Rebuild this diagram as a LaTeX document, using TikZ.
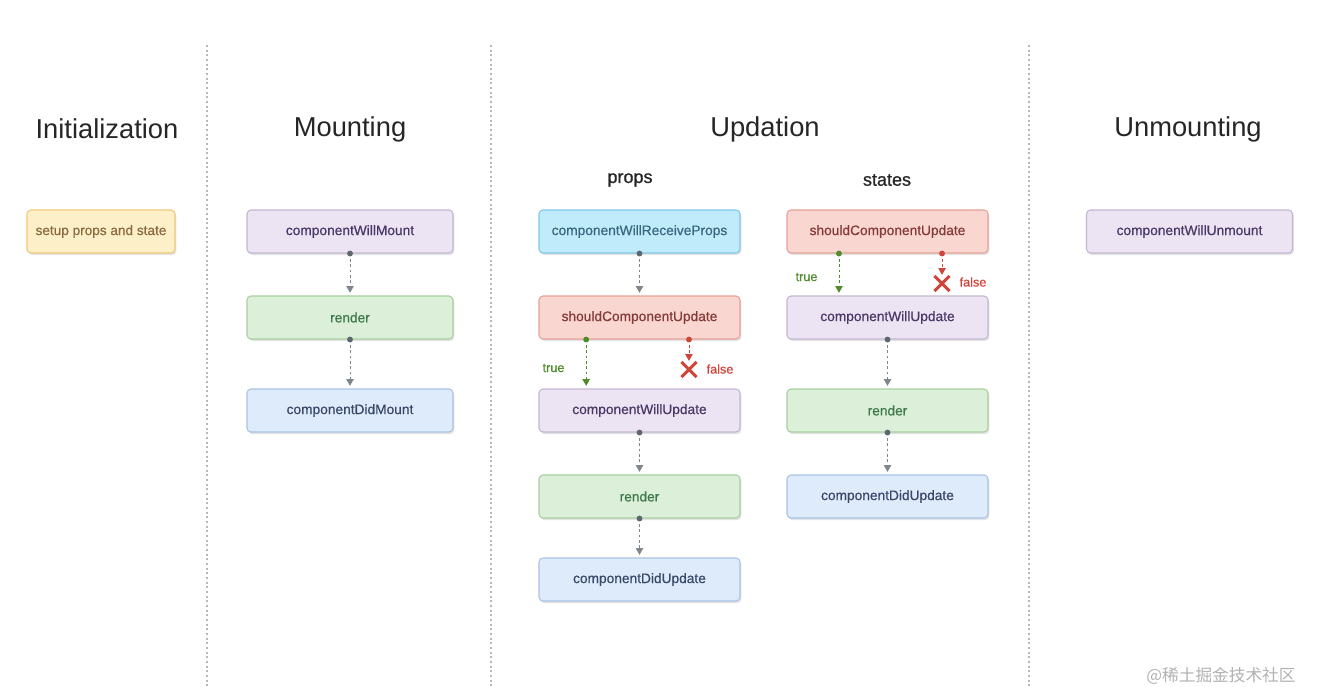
\documentclass[tikz,border=0pt]{standalone}
\usepackage{fontspec}
\setmainfont{Liberation Sans}
\newfontfamily\boxfont[FakeBold=0.6]{Liberation Sans}
\newfontfamily\subfont[FakeBold=0.9]{Liberation Sans}
\newfontfamily\cjkfont{Noto Sans CJK SC}
\usetikzlibrary{arrows.meta,shadows,calc}
\definecolor{sepc}{HTML}{B8B8B8}
\definecolor{dotc}{HTML}{5E6670}
\definecolor{truec}{HTML}{4F8A2B}
\definecolor{falsec}{HTML}{D0453A}
\definecolor{yelF}{HTML}{FDF0C9}\definecolor{yelD}{HTML}{EFC97A}\definecolor{yelT}{HTML}{8A6A40}
\definecolor{purF}{HTML}{EDE4F3}\definecolor{purD}{HTML}{C4B6D2}\definecolor{purT}{HTML}{4A3868}
\definecolor{grnF}{HTML}{DCEFD8}\definecolor{grnD}{HTML}{A8CFA0}\definecolor{grnT}{HTML}{3E7A4C}
\definecolor{bluF}{HTML}{DEEBFB}\definecolor{bluD}{HTML}{A9C3E6}\definecolor{bluT}{HTML}{3A4868}
\definecolor{cyaF}{HTML}{C0EBFA}\definecolor{cyaD}{HTML}{7DC8E6}\definecolor{cyaT}{HTML}{39687E}
\definecolor{redF}{HTML}{FAD6D1}\definecolor{redD}{HTML}{E6A198}\definecolor{redT}{HTML}{843A36}
\begin{document}
\begin{tikzpicture}[x=0.75pt,y=-0.75pt,
  box/.style={rectangle, rounded corners=3pt, line width=0.8pt, minimum width=154.5pt, minimum height=32.25pt,
    font=\boxfont\fontsize{10.3}{12}\selectfont, drop shadow={opacity=0.22, shadow xshift=1pt, shadow yshift=-1.5pt}},
  ubox/.style={minimum width=150.75pt},
  ybox/.style={box, fill=yelF, draw=yelD, text=yelT, minimum width=111pt, font=\boxfont\fontsize{10.2}{12}\selectfont},
  pbox/.style={box, fill=purF, draw=purD, text=purT},
  gbox/.style={box, fill=grnF, draw=grnD, text=grnT},
  bbox/.style={box, fill=bluF, draw=bluD, text=bluT},
  cbox/.style={box, fill=cyaF, draw=cyaD, text=cyaT},
  rbox/.style={box, fill=redF, draw=redD, text=redT},
  title/.style={font=\fontsize{20.5}{24}\selectfont, text=black!85},
  sub/.style={font=\subfont\fontsize{13.5}{16}\selectfont, text=black!85},
  sep/.style={draw=sepc, line width=0.8pt, dash pattern=on 1.5pt off 2pt},
  conn/.style={draw=dotc!80, line width=0.7pt, dash pattern=on 2pt off 2pt, -{Triangle[length=5pt,width=5.5pt]}, shorten >=2pt},
  tconn/.style={conn, draw=truec},
  fconn/.style={conn, draw=falsec},
  lbl/.style={font=\boxfont\fontsize{9.5}{11}\selectfont}
]
\useasboundingbox (0,0) rectangle (1333,686);
\fill[white] (0,0) rectangle (1333,686);

% separators
\coordinate (s1t) at (207,45); \coordinate (s1b) at (207,686);
\coordinate (s2t) at (491,45); \coordinate (s2b) at (491,686);
\coordinate (s3t) at (1029,45); \coordinate (s3b) at (1029,686);
\draw[sep] (s1t) -- (s1b);
\draw[sep] (s2t) -- (s2b);
\draw[sep] (s3t) -- (s3b);

% titles
\node[title] (tInit) at (107,129) {Initialization};
\node[title] (tMount) at (350,129) {Mounting};
\node[title] (tUpd) at (765,129) {Updation};
\node[title] (tUnm) at (1188,129) {Unmounting};
\node[sub] (tProps) at (630,180) {props};
\node[sub] (tStates) at (887,180) {states};

% Initialization
\node[ybox] (setup) at (101,231.5) {setup props and state};

% Mounting
\node[pbox] (cwm) at (350,231.5) {componentWillMount};
\node[gbox] (mr) at (350,317.5) {render};
\node[bbox] (cdm) at (350,410.5) {componentDidMount};

% Updation props
\node[cbox,ubox] (cwrp) at (639.5,231.5) {componentWillReceiveProps};
\node[rbox,ubox] (pscu) at (639.5,317.5) {shouldComponentUpdate};
\node[pbox,ubox] (pcwu) at (639.5,410.5) {componentWillUpdate};
\node[gbox,ubox] (pr) at (639.5,496.5) {render};
\node[bbox,ubox] (pcdu) at (639.5,579.5) {componentDidUpdate};

% Updation states
\node[rbox,ubox] (sscu) at (887.5,231.5) {shouldComponentUpdate};
\node[pbox,ubox] (scwu) at (887.5,317.5) {componentWillUpdate};
\node[gbox,ubox] (sr) at (887.5,410.5) {render};
\node[bbox,ubox] (scdu) at (887.5,496.5) {componentDidUpdate};

% Unmounting
\node[pbox] (cwu) at (1189.5,231.5) {componentWillUnmount};

% plain connectors
\foreach \a/\b in {cwm/mr, mr/cdm, cwrp/pscu, pcwu/pr, pr/pcdu, scwu/sr, sr/scdu}{
  \draw[conn] (\a.south) -- (\b.north);
  \fill[dotc] (\a.south) circle (2.2pt);
}

% props true/false
\coordinate (ptS) at ([xshift=-40pt]pscu.south);
\coordinate (ptE) at ([xshift=-40pt]pcwu.north);
\coordinate (pfS) at ([xshift=37.1pt]pscu.south);
\coordinate (pfE) at ([xshift=37.1pt,yshift=-16pt]pscu.south);
\draw[tconn] (ptS) -- (ptE);
\fill[truec] (ptS) circle (2.2pt);
\draw[fconn, shorten >=0pt] (pfS) -- (pfE);
\fill[falsec] (pfS) circle (2.2pt);
\node[lbl, text=truec] (ptL) at (553.5,368) {true};
\node[lbl, text=falsec] (pfL) at (720,369) {false};
\node[inner sep=0pt, minimum size=11pt] (pX) at (689,369.5) {};
\draw[falsec, line width=2.2pt] (pX.north west) -- (pX.south east) (pX.north east) -- (pX.south west);

% states true/false
\coordinate (stS) at ([xshift=-36.4pt]sscu.south);
\coordinate (stE) at ([xshift=-36.4pt]scwu.north);
\coordinate (sfS) at ([xshift=40.9pt]sscu.south);
\coordinate (sfE) at ([xshift=40.9pt,yshift=-16pt]sscu.south);
\draw[tconn] (stS) -- (stE);
\fill[truec] (stS) circle (2.2pt);
\draw[fconn, shorten >=0pt] (sfS) -- (sfE);
\fill[falsec] (sfS) circle (2.2pt);
\node[lbl, text=truec] (stL) at (806.5,277) {true};
\node[lbl, text=falsec] (sfL) at (973,282) {false};
\node[inner sep=0pt, minimum size=11pt] (sX) at (942,283.5) {};
\draw[falsec, line width=2.2pt] (sX.north west) -- (sX.south east) (sX.north east) -- (sX.south west);

% watermark
\node[font=\cjkfont\fontsize{12.5}{14}\selectfont, text=black!30] (wm) at (1221,676) {@稀土掘金技术社区};
\end{tikzpicture}
\end{document}
